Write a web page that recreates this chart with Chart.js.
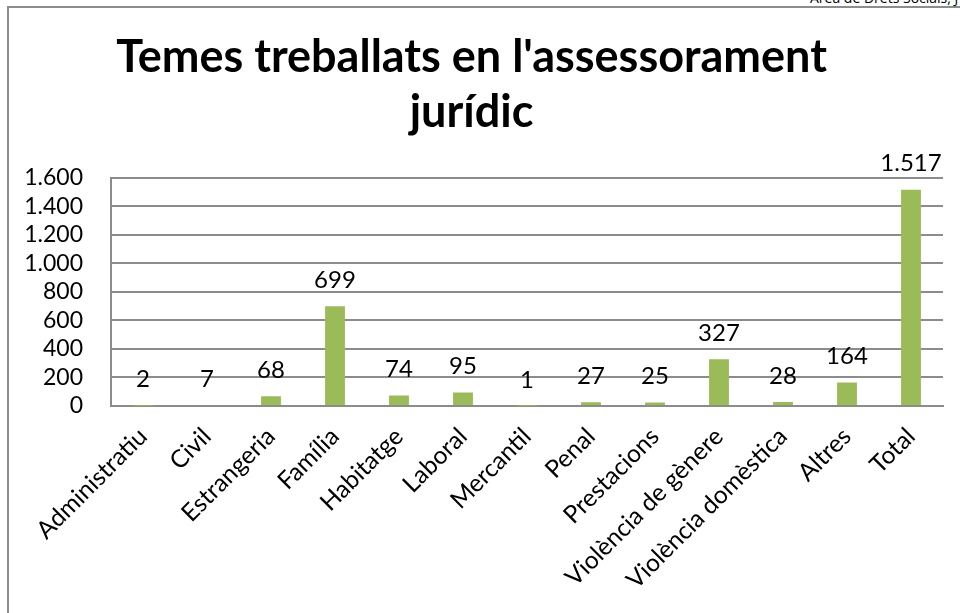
<!DOCTYPE html>
<html>
<head>
<meta charset="utf-8">
<script src="https://cdn.jsdelivr.net/npm/chart.js@4"></script>
<style>
  html, body { margin: 0; padding: 0; overflow: hidden; background: #fff; }
  #wrap { position: relative; width: 960px; height: 613px; overflow: hidden; }
  #frame { position: absolute; left: 7px; top: 6px; width: 1000px; height: 700px; border: 2px solid #8c8c8c; }
  #note { position: absolute; left: 810px; top: -12px; font: 14px 'Open Sans'; white-space: nowrap; color: #000; }
  canvas { position: absolute; left: 0; top: 0; }
</style>
</head>
<body>
<div id="wrap">
  <div id="frame"></div>
  <div id="note">Àrea de Drets Socials, J</div>
  <canvas id="chart-canvas" width="960" height="613"></canvas>
</div>
<script>
const temes = ['Administratiu', 'Civil', 'Estrangeria', 'Família', 'Habitatge', 'Laboral', 'Mercantil',
  'Penal', 'Prestacions', 'Violència de gènere', 'Violència domèstica', 'Altres', 'Total']
const casos = [2, 7, 68, 699, 74, 95, 1, 27, 25, 327, 28, 164, 1517]
const yTicks = [0, 200, 400, 600, 800, 1000, 1200, 1400, 1600]

const FONT = 'Lato'

// 1517 -> "1.517"
function formatNum(v) {
  return String(v).replace(/\B(?=(\d{3})+(?!\d))/g, '.')
}

const valueLabels = {
  id: 'valueLabels',
  afterDatasetsDraw(chart) {
    const ctx = chart.ctx
    const meta = chart.getDatasetMeta(0)
    ctx.save()
    ctx.font = '24px ' + FONT
    ctx.fillStyle = '#000'
    ctx.textAlign = 'center'
    ctx.textBaseline = 'middle'
    meta.data.forEach((bar, i) => {
      ctx.fillText(formatNum(casos[i]), bar.x, bar.y - 26)
    })
    ctx.restore()
  }
}

const ctx = document.querySelector('#chart-canvas')
new Chart(ctx, {
  type: 'bar',
  data: {
    labels: temes,
    datasets: [{
      data: casos,
      backgroundColor: '#9bbb59',
      barPercentage: 0.31,
      categoryPercentage: 1
    }]
  },
  options: {
    responsive: false,
    animation: false,
    layout: { padding: { left: 0, right: 17, top: 0, bottom: 0 } },
    plugins: {
      legend: { display: false },
      tooltip: { enabled: false },
      title: {
        display: true,
        text: ["Temes treballats en l'assessorament", 'jurídic'],
        color: '#000',
        font: { family: FONT, size: 45, weight: 'bold', lineHeight: 1.22 },
        padding: { top: 30, bottom: 38 }
      }
    },
    scales: {
      x: {
        grid: { display: false },
        border: { display: true, color: '#8c8c8c', width: 2 },
        ticks: {
          color: '#000',
          font: { family: FONT, size: 24.5 },
          maxRotation: 45,
          minRotation: 45,
          autoSkip: false,
          padding: 8
        },
        afterFit(scale) { scale.height = 207 }
      },
      y: {
        min: 0,
        max: 1600,
        afterBuildTicks(scale) { scale.ticks = yTicks.map(v => ({ value: v })) },
        grid: { color: '#8c8c8c', lineWidth: 2, drawTicks: false },
        border: { display: true, color: '#8c8c8c', width: 2 },
        ticks: {
          color: '#000',
          font: { family: FONT, size: 23 },
          padding: 28,
          autoSkip: false,
          callback: v => formatNum(v)
        },
        afterFit(scale) { scale.width = 111 }
      }
    }
  },
  plugins: [valueLabels]
})
</script>
</body>
</html>
